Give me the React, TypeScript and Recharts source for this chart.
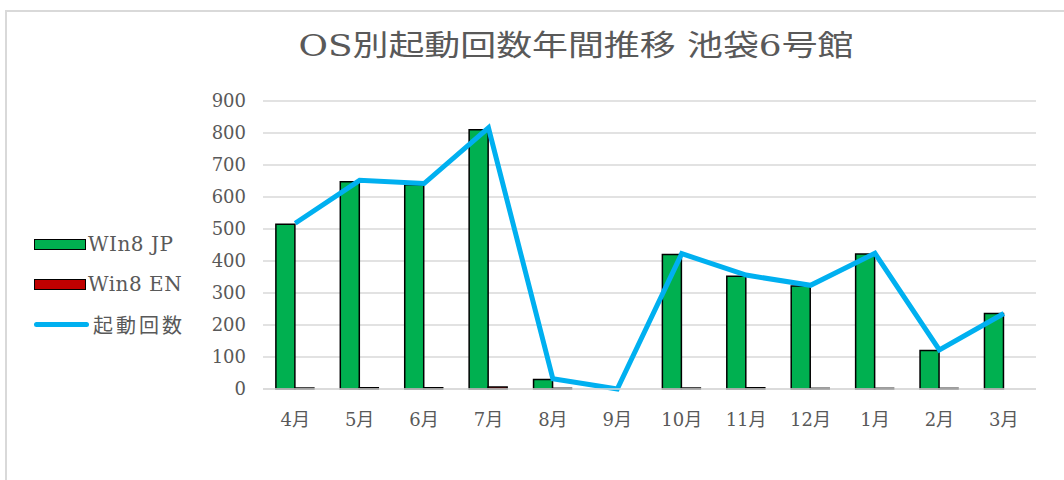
import {
  Bar,
  CartesianGrid,
  ComposedChart,
  Legend,
  Line,
  XAxis,
  YAxis,
} from 'recharts'

const months = ['4月', '5月', '6月', '7月', '8月', '9月', '10月', '11月', '12月', '1月', '2月', '3月']
const win8Jp = [515, 648, 638, 810, 30, 0, 420, 352, 322, 422, 120, 236]
const win8En = [3, 4, 4, 6, 2, 0, 3, 4, 2, 2, 2, 0]
const launches = [518, 652, 642, 816, 32, 0, 423, 356, 324, 424, 122, 236]
const yTicks = [0, 100, 200, 300, 400, 500, 600, 700, 800, 900]

const TITLE = 'OS別起動回数年間推移 池袋6号館'
const FONT = "'DejaVu Serif', 'Noto Sans CJK JP', serif"
const TEXT_COLOR = '#595959'
const GRID_COLOR = '#d9d9d9'
const JP_COLOR = '#00b050'
const EN_COLOR = '#c00000'
const LINE_COLOR = '#00b0f0'

const data = months.map((month, i) => ({
  month,
  jp: win8Jp[i],
  en: win8En[i],
  total: launches[i],
}))

function LegendBox(props: any) {
  const { payload } = props
  if (!payload) return null
  return (
    <div style={{ fontFamily: FONT, color: TEXT_COLOR, fontSize: 20 }}>
      {payload.map((entry: any) => {
        const isLine = entry.type === 'line'
        return (
          <div
            key={entry.value}
            style={{ display: 'flex', alignItems: 'center', height: 40 }}
          >
            {isLine ? (
              <div
                style={{
                  width: 55,
                  height: 5,
                  borderRadius: 3,
                  background: LINE_COLOR,
                }}
              />
            ) : (
              <div
                style={{
                  width: 50,
                  height: 9,
                  background: entry.color,
                  border: '1.5px solid #000',
                }}
              />
            )}
            <span
              style={{
                marginLeft: isLine ? 4 : 2,
                letterSpacing: isLine ? 3 : 0.5,
                whiteSpace: 'nowrap',
              }}
            >
              {entry.value}
            </span>
          </div>
        )
      })}
    </div>
  )
}

export default function App() {
  return (
    <div
      style={{
        position: 'absolute',
        left: 0,
        top: 0,
        width: 1064,
        height: 480,
        background: '#fff',
        overflow: 'hidden',
      }}
    >
      <div
        style={{
          position: 'absolute',
          left: 5,
          top: 10,
          width: 1070,
          height: 480,
          border: `2px solid ${GRID_COLOR}`,
        }}
      />
      <svg
        width={1064}
        height={80}
        style={{ position: 'absolute', left: 0, top: 0 }}
      >
        <text
          x={576}
          y={56}
          textAnchor="middle"
          fontFamily={FONT}
          fontSize={29}
          fill={TEXT_COLOR}
          textLength={555}
          lengthAdjust="spacingAndGlyphs"
        >
          {TITLE}
        </text>
      </svg>
      <div style={{ position: 'absolute', left: 0, top: 0 }}>
        <ComposedChart
          width={1064}
          height={480}
          data={data}
          margin={{ top: 101, right: 28, bottom: 61, left: 200 }}
          barCategoryGap="20%"
          barGap={0}
        >
          <CartesianGrid vertical={false} stroke={GRID_COLOR} strokeWidth={1.5} />
          <XAxis
            dataKey="month"
            height={30}
            axisLine={{ stroke: GRID_COLOR, strokeWidth: 1.5 }}
            tickLine={false}
            tickMargin={18}
            tick={{ fill: TEXT_COLOR, fontSize: 18, fontFamily: FONT }}
          />
          <YAxis
            width={63}
            domain={[0, 900]}
            ticks={yTicks}
            axisLine={false}
            tickLine={false}
            tickMargin={11}
            tick={{ fill: TEXT_COLOR, fontSize: 18, fontFamily: FONT }}
          />
          <Legend
            content={<LegendBox />}
            layout="horizontal"
            verticalAlign="middle"
            align="center"
            wrapperStyle={{ position: 'absolute', left: 34, top: 224, width: 180, height: 120 }}
          />
          <Bar
            dataKey="jp"
            name="WIn8 JP"
            fill={JP_COLOR}
            stroke="#000"
            strokeWidth={1.5}
            isAnimationActive={false}
          />
          <Bar
            dataKey="en"
            name="Win8 EN"
            fill={EN_COLOR}
            stroke="#000"
            strokeWidth={1.5}
            isAnimationActive={false}
          />
          <Line
            dataKey="total"
            name="起動回数"
            type="linear"
            stroke={LINE_COLOR}
            strokeWidth={5}
            dot={false}
            activeDot={false}
            legendType="line"
            isAnimationActive={false}
          />
        </ComposedChart>
      </div>
    </div>
  )
}
